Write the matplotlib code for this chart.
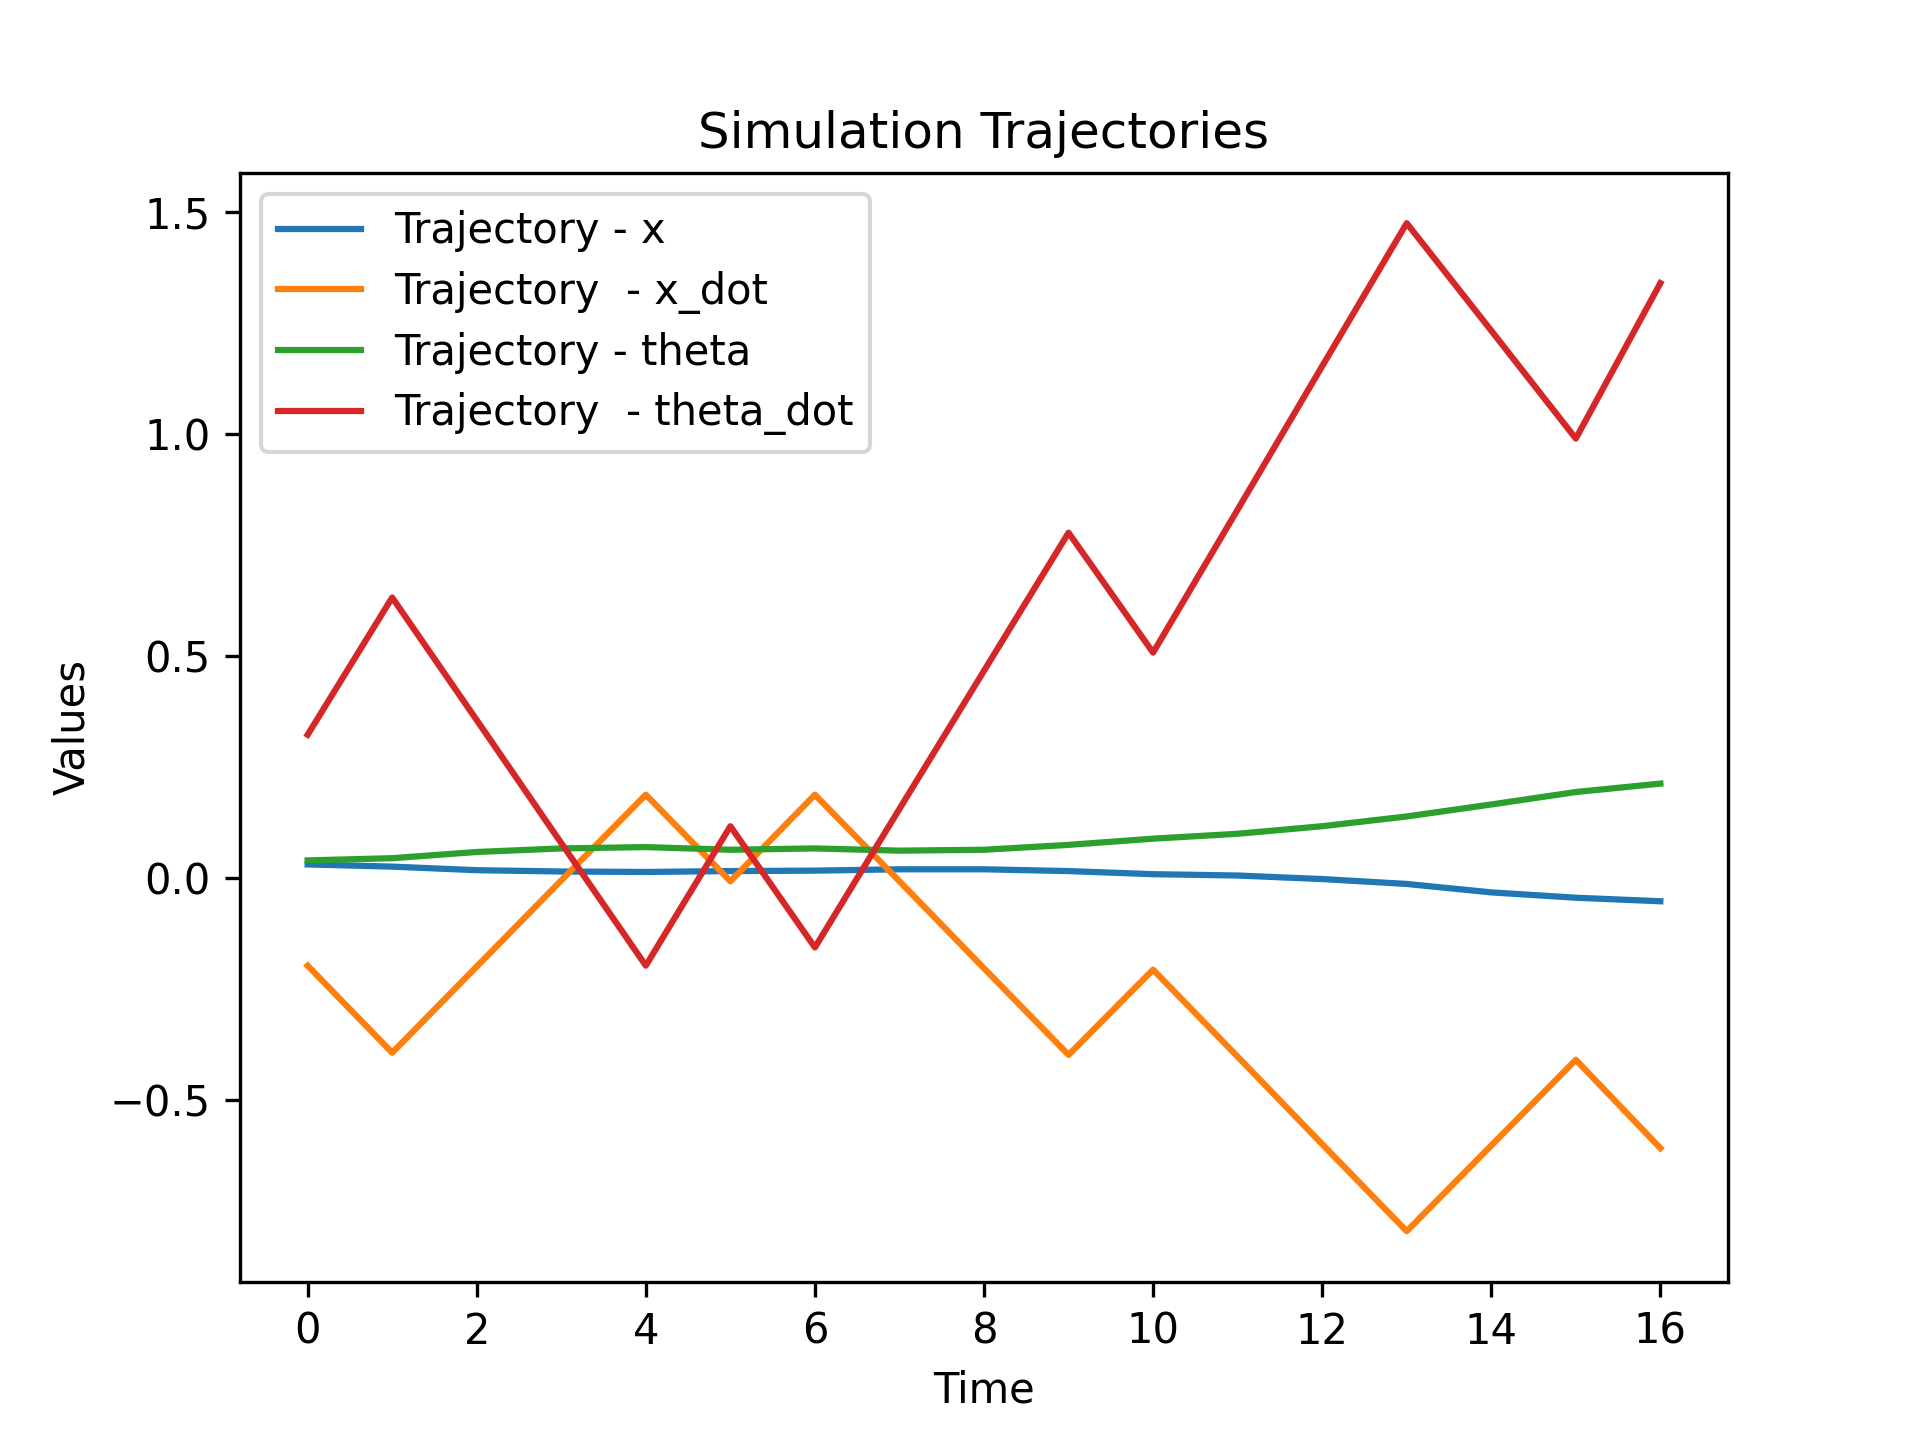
import numpy as np
import matplotlib.pyplot as plt

# Time steps
time = list(range(17))

# State trajectories
x = [0.030, 0.025, 0.017, 0.014, 0.013, 0.015, 0.016, 0.019, 0.019,
     0.015, 0.008, 0.005, -0.003, -0.014, -0.033, -0.045, -0.053]
x_dot = [-0.198, -0.394, -0.200, -0.006, 0.187, -0.008, 0.187, -0.008, -0.204,
         -0.399, -0.207, -0.403, -0.600, -0.796, -0.603, -0.410, -0.609]
theta = [0.039, 0.044, 0.058, 0.066, 0.069, 0.063, 0.066, 0.061, 0.063,
         0.074, 0.088, 0.099, 0.116, 0.138, 0.165, 0.193, 0.212]
theta_dot = [0.322, 0.631, 0.355, 0.078, -0.198, 0.116, -0.157, 0.155, 0.466,
             0.777, 0.507, 0.829, 1.152, 1.474, 1.232, 0.989, 1.339]

plt.figure(figsize=(6.4, 4.8), dpi=300)
plt.plot(time, x, label="Trajectory - x")
plt.plot(time, x_dot, label="Trajectory  - x_dot")
plt.plot(time, theta, label="Trajectory - theta")
plt.plot(time, theta_dot, label="Trajectory  - theta_dot")
plt.title("Simulation Trajectories")
plt.xlabel("Time")
plt.ylabel("Values")
plt.legend(labelspacing=0.44)
plt.savefig("out.png", dpi=300)
